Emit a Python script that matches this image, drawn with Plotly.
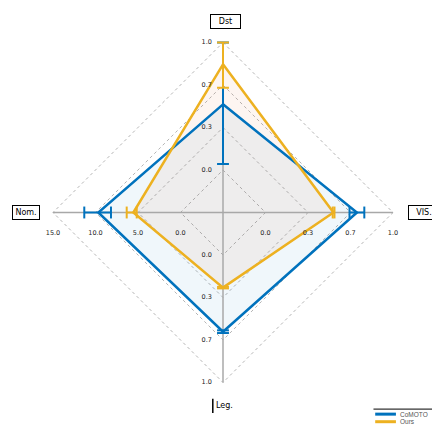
import numpy as np
import plotly.graph_objects as go

# axes, clockwise from the top
axes = ["Dst", "VIS.", "Leg.", "Nom."]
axis_min = [-1/3, -1/3, -1/3, -5.0]
axis_max = [1.0, 1.0, 1.0, 15.0]
tick_vals = [[0.0, 1/3, 2/3, 1.0], [0.0, 1/3, 2/3, 1.0], [0.0, 1/3, 2/3, 1.0], [0.0, 5.0, 10.0, 15.0]]

series = ["CoMOTO", "Ours"]
comoto = [0.515, 0.717, 0.602, 9.67]
comoto_lo = [0.047, 0.659, 0.591, 8.18]
comoto_hi = [1.0, 0.775, 0.612, 11.32]

ours = [0.829, 0.533, 0.256, 5.55]
ours_lo = [0.645, 0.527, 0.250, 5.15]
ours_hi = [1.0, 0.541, 0.262, 6.33]

BLUE = "#0072BD"
YELLOW = "#EDB120"
angles = np.deg2rad([0, 90, 180, 270])


def norm(i, v):
    return (v - axis_min[i]) / (axis_max[i] - axis_min[i])


def xy(i, v):
    r = norm(i, v)
    return r * np.sin(angles[i]), r * np.cos(angles[i])


def polygon(vals):
    pts = [xy(i, v) for i, v in enumerate(vals)]
    pts.append(pts[0])
    return [p[0] for p in pts], [p[1] for p in pts]


def errbars(lo, hi, cap=0.035):
    xs, ys = [], []
    for i in range(len(axes)):
        x0, y0 = xy(i, lo[i])
        x1, y1 = xy(i, hi[i])
        xs += [x0, x1, None]
        ys += [y0, y1, None]
        # caps perpendicular to the spoke
        px, py = np.cos(angles[i]) * cap, -np.sin(angles[i]) * cap
        for cx, cy in [(x0, y0), (x1, y1)]:
            xs += [cx - px, cx + px, None]
            ys += [cy - py, cy + py, None]
    return xs, ys


fig = go.Figure()

# grid diamonds
for r in [0.25, 0.5, 0.75, 1.0]:
    gx = [r * np.sin(a) for a in angles] + [0]
    gy = [r * np.cos(a) for a in angles] + [r]
    fig.add_trace(go.Scatter(x=gx, y=gy, mode="lines", hoverinfo="skip", showlegend=False,
                             line=dict(color="#b5b5b5", width=1, dash="dot")))

# fills
bx, by = polygon(comoto)
ox, oy = polygon(ours)
fig.add_trace(go.Scatter(x=bx, y=by, fill="toself", fillcolor="rgba(0,114,189,0.06)",
                         mode="none", showlegend=False, hoverinfo="skip"))
fig.add_trace(go.Scatter(x=ox, y=oy, fill="toself", fillcolor="rgba(217,83,25,0.06)",
                         mode="none", showlegend=False, hoverinfo="skip"))

# spokes
sx, sy = [], []
for i in range(len(axes)):
    sx += [0, np.sin(angles[i]), None]
    sy += [0, np.cos(angles[i]), None]
fig.add_trace(go.Scatter(x=sx, y=sy, mode="lines", hoverinfo="skip", showlegend=False,
                         line=dict(color="#a8a8a8", width=1.5)))

# polygons
fig.add_trace(go.Scatter(x=bx, y=by, mode="lines", name=series[0], showlegend=False,
                         line=dict(color=BLUE, width=2.5)))
fig.add_trace(go.Scatter(x=ox, y=oy, mode="lines", name=series[1], showlegend=False,
                         line=dict(color=YELLOW, width=2.5)))

# error bars
ex, ey = errbars(comoto_lo, comoto_hi)
fig.add_trace(go.Scatter(x=ex, y=ey, mode="lines", showlegend=False, hoverinfo="skip",
                         line=dict(color=BLUE, width=2)))
ex, ey = errbars(ours_lo, ours_hi)
fig.add_trace(go.Scatter(x=ex, y=ey, mode="lines", showlegend=False, hoverinfo="skip",
                         line=dict(color=YELLOW, width=2)))

# tick labels
tx, ty, tt, tp = [], [], [], []
for i in range(len(axes)):
    for v in tick_vals[i]:
        x, y = xy(i, v)
        if i in (0, 2):
            x -= 0.065
            pos = "middle left"
        else:
            y -= 0.125
            pos = "middle center"
        tx.append(x)
        ty.append(y)
        tt.append("%.1f" % v)
        tp.append(pos)
fig.add_trace(go.Scatter(x=tx, y=ty, text=tt, mode="text", textposition=tp, showlegend=False,
                         hoverinfo="skip", textfont=dict(size=6.5, color="#222222")))

# axis titles
tfont = dict(size=8, color="black", family="DejaVu Sans")
box = dict(bordercolor="black", borderwidth=1, borderpad=2, bgcolor="white",
           font=tfont, showarrow=False)
fig.add_annotation(x=0.012, y=1.124, text="Dst", width=25, **box)
fig.add_annotation(x=-1.159, y=0.0, text="Nom.", width=22, **box)
fig.add_annotation(x=1.088, y=0.0, text="VIS.", xanchor="left", width=26, **box)
fig.add_annotation(x=0.01, y=-1.137, text="Leg.", showarrow=False, font=tfont)
fig.add_shape(type="line", x0=-0.06, x1=-0.06, y0=-1.095, y1=-1.18,
              line=dict(color="black", width=1.5))

# legend, drawn by hand to keep it compact
fig.add_shape(type="line", xref="paper", yref="paper", x0=0.846, x1=0.99, y0=0.045, y1=0.045,
              line=dict(color="black", width=1))
for k, (name, col) in enumerate(zip(series, [BLUE, YELLOW])):
    yk = 0.033 - k * 0.018
    fig.add_shape(type="line", xref="paper", yref="paper", x0=0.85, x1=0.898, y0=yk, y1=yk,
                  line=dict(color=col, width=3))
    fig.add_annotation(xref="paper", yref="paper", x=0.903, y=yk, text=name,
                       xanchor="left", yanchor="middle",
                       showarrow=False, font=dict(size=6.5, color="#555555", family="Liberation Sans"))

fig.update_layout(
    width=432, height=420, autosize=False,
    margin=dict(l=0, r=0, t=0, b=0),
    paper_bgcolor="white", plot_bgcolor="white",
    font=dict(family="DejaVu Sans"),
    showlegend=False,
    xaxis=dict(range=[-215/170, 217/170], visible=False, fixedrange=True),
    yaxis=dict(range=[-215.5/170, 204.5/170], visible=False, fixedrange=True),
)

fig.write_html("out.html")
